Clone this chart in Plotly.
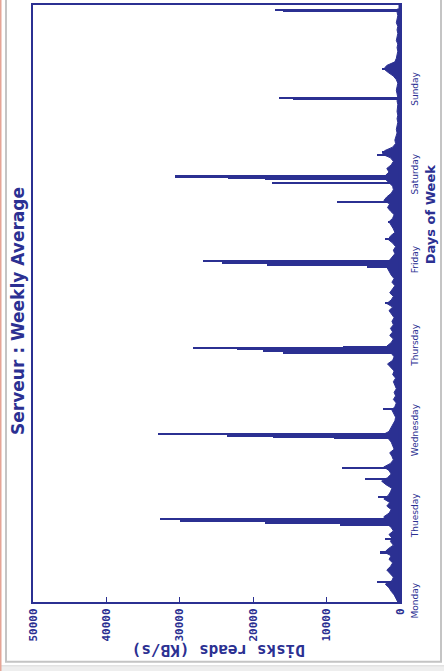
import plotly.graph_objects as go

# ---------------- data ----------------
day_labels = ["Monday", "Thuesday", "Wednesday", "Thursday", "Friday", "Saturday", "Sunday"]
day_ticks_h = [0, 24, 48, 72, 96, 120, 144]
value_ticks = [0, 10000, 20000, 30000, 40000, 50000]

# hourly background activity (KB/s), hour 0 = Monday 00:00
base_hours = list(range(168))
base_values = [
    # Monday
    300, 500, 800, 1200, 1500, 2000, 1100, 900, 1400, 1800, 1300, 1000,
    1500, 1200, 2100, 1600, 900, 1300, 1100, 1500, 900, 1200, 1800, 2000,
    # Tuesday
    2200, 1500, 1200, 1800, 1400, 2200, 1600, 1300, 1100, 1900, 2500, 1700,
    1200, 1500, 2200, 1300, 900, 1100, 1400, 800, 1000, 1200, 1600, 2400,
    # Wednesday
    1500, 1200, 900, 700, 600, 800, 1100, 700, 500, 900, 600, 800,
    500, 700, 900, 600, 1000, 800, 1300, 1700, 1000, 800, 1200, 1800,
    # Thursday
    1800, 1200, 900, 1400, 1000, 1300, 900, 1100, 800, 1200, 1500, 1000,
    1800, 1200, 900, 1400, 1000, 700, 1100, 800, 1200, 1500, 1800, 2000,
    # Friday
    1500, 1100, 700, 900, 600, 1000, 1600, 1300, 700, 900, 1200, 1500,
    1000, 800, 1300, 1700, 1400, 2200, 1800, 1200, 900, 1000, 1500, 2000,
    # Saturday
    2000, 1500, 1800, 1200, 900, 1300, 2400, 2100, 1000, 600, 700, 500,
    400, 500, 400, 300, 400, 300, 400, 300, 300, 400, 300, 400,
    # Sunday
    500, 400, 300, 500, 900, 1600, 2200, 1800, 700, 500, 400, 300,
    400, 300, 500, 400, 300, 400, 300, 500, 400, 300, 400, 300,
]

# peaks (hour of week, KB/s)
peak_hours = [
    5.6, 14.0, 17.9,
    21.8, 22.2, 22.9, 23.3,
    29.7, 34.8, 37.9,
    46.3, 46.6, 46.9, 47.3,
    54.4,
    70.2, 70.6, 71.2, 71.5, 71.8,
    84.1,
    94.3, 94.8, 95.6, 96.0,
    102.3, 107.1, 112.7,
    117.9, 119.0, 119.4, 119.8,
    125.9, 126.7,
    141.6, 141.8,
    150.0,
    166.3, 166.6,
]
peak_values = [
    3100, 2700, 2000,
    8200, 18400, 30000, 32700,
    3000, 4800, 7900,
    9000, 17300, 23600, 33000,
    2300,
    16000, 18700, 22200, 28200, 7800,
    2000,
    4500, 18100, 24300, 26800,
    2000, 1600, 8600,
    17400, 18400, 23400, 30650,
    3100, 2400,
    14600, 16500,
    2450,
    16000, 17000,
]

# ---------------- figure ----------------
NAVY = "#2b3092"

fig = go.Figure()
fig.add_trace(go.Scatter(
    x=base_values, y=base_hours, mode="lines",
    line=dict(color=NAVY, width=1), fill="tozerox", fillcolor=NAVY,
    hoverinfo="skip", showlegend=False,
))
fig.add_trace(go.Bar(
    x=peak_values, y=peak_hours, orientation="h", width=0.45,
    marker=dict(color=NAVY, line=dict(width=0)),
    showlegend=False,
))

L, R, T, B = 33, 400, 3, 602
W, H = 444, 671


def px(x):
    return (x - L) / (R - L)


def py(y):
    return (B - y) / (B - T)


fig.update_layout(
    width=W, height=H,
    margin=dict(l=L, r=W - R, t=T, b=H - B),
    paper_bgcolor="white", plot_bgcolor="white",
    bargap=0,
    xaxis=dict(
        range=[50000, 0], tickvals=value_ticks,
        ticktext=[str(v) for v in value_ticks],
        tickangle=-90, ticks="inside", ticklen=5, tickcolor=NAVY, tickwidth=1,
        tickfont=dict(family="DejaVu Sans Mono", size=11, color=NAVY, weight="bold"),
        showgrid=False, zeroline=False,
        showline=True, linecolor=NAVY, linewidth=2, mirror=True,
    ),
    yaxis=dict(
        range=[0, 168], tickvals=day_ticks_h, ticktext=day_labels,
        side="right", tickangle=-90, ticks="", ticklabelstandoff=5,
        tickfont=dict(family="DejaVu Sans", size=9, color=NAVY),
        showgrid=False, zeroline=False,
        showline=True, linecolor=NAVY, linewidth=2, mirror=True,
    ),
)

shapes = [
    # outer grey frame
    dict(type="rect", xref="paper", yref="paper",
         x0=px(6), x1=px(441), y0=py(662), y1=py(-5),
         line=dict(color="#c4c4c4", width=2), fillcolor="rgba(0,0,0,0)", layer="below"),
    # bottom strip
    dict(type="rect", xref="paper", yref="paper",
         x0=px(-5), x1=px(450), y0=py(680), y1=py(666),
         line=dict(color="#d8d8d8", width=1), fillcolor="#eeeeee", layer="below"),
    # salmon edge on the left
    dict(type="line", xref="paper", yref="paper",
         x0=px(0.5), x1=px(0.5), y0=py(680), y1=py(-5),
         line=dict(color="#e6a596", width=2)),
    # thick zero line
    dict(type="line", xref="paper", yref="paper",
         x0=1, x1=1, y0=0, y1=1, line=dict(color=NAVY, width=3)),
]
fig.update_layout(shapes=shapes)

fig.add_annotation(
    text="<b>Serveur : Weekly Average</b>", xref="paper", yref="paper",
    x=px(18), y=py(310), textangle=-90, showarrow=False,
    xanchor="center", yanchor="middle",
    font=dict(family="DejaVu Sans", size=17, color=NAVY),
)
fig.add_annotation(
    text="<b>Disks reads (KB/s)</b>", xref="paper", yref="paper",
    x=px(219), y=py(650), textangle=180, showarrow=False,
    xanchor="center", yanchor="middle",
    font=dict(family="DejaVu Sans Mono", size=16, color=NAVY),
)
fig.add_annotation(
    text="<b>Days of Week</b>", xref="paper", yref="paper",
    x=px(430), y=py(213), textangle=-90, showarrow=False,
    xanchor="center", yanchor="middle",
    font=dict(family="DejaVu Sans", size=13, color=NAVY),
)

fig.write_html(
    "out.html",
    config={"displayModeBar": False},
    post_script="document.body.style.margin='0';document.body.style.overflow='hidden';",
)
